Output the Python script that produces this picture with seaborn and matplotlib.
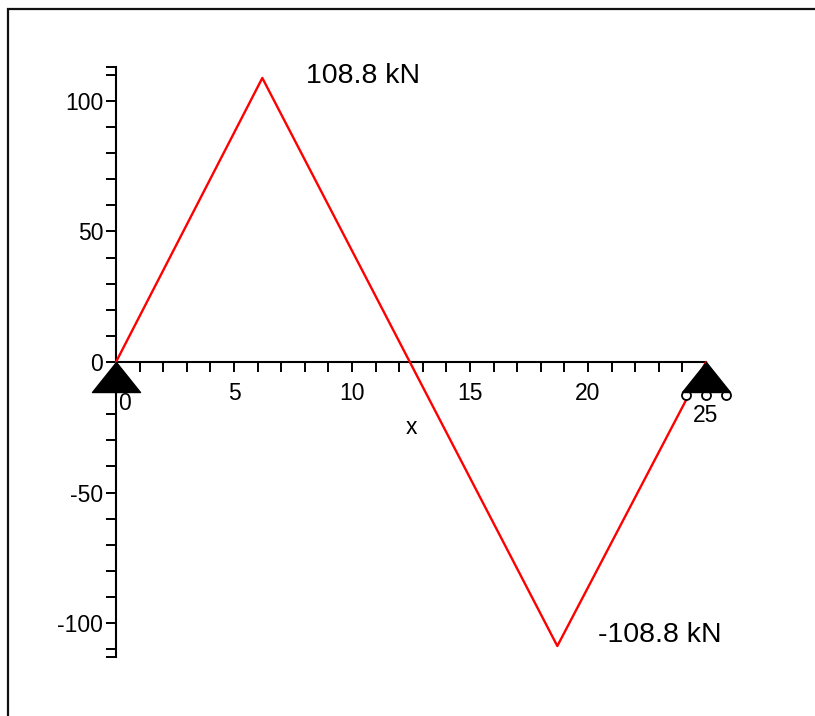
import numpy as np
import pandas as pd
import matplotlib
matplotlib.use("Agg")
import matplotlib.pyplot as plt
from matplotlib.path import Path
from matplotlib.markers import MarkerStyle
from matplotlib.transforms import ScaledTranslation
from matplotlib.patches import Rectangle
import seaborn as sns

# ---- data ----
x_pos = [0.0, 6.2, 18.7, 25.0]
shear = [0.0, 108.8, -108.8, 0.0]
supports_x = [0.0, 25.0]
peak_labels = ["108.8 kN", "-108.8 kN"]
peak_label_x = [10.45, 23.05]
peak_label_y = [109.5, -104.5]
x_major = [0, 5, 10, 15, 20, 25]
x_major_labels = ["", "5", "10", "15", "20", ""]
y_major = [-100, -50, 0, 50, 100]
y_major_labels = ["-100", "-50", "0", "50", "100"]

sns.set_style("white")
plt.rcParams["font.family"] = ["Liberation Sans", "DejaVu Sans"]
plt.rcParams["text.color"] = "black"
plt.rcParams["axes.labelcolor"] = "black"

fig = plt.figure(figsize=(8.15, 7.16), dpi=100)
ax = fig.add_axes([116 / 815, 59 / 716, 590 / 815, 590 / 716])

df = pd.DataFrame({"x": x_pos, "V": shear})
sns.lineplot(data=df, x="x", y="V", ax=ax, color="#ff0000", lw=1.7,
             estimator=None, sort=False, clip_on=False, zorder=3)

ax.set_xlim(0, 25)
ax.set_ylim(-113, 113)

for s in ["top", "right"]:
    ax.spines[s].set_visible(False)
ax.spines["left"].set_position(("data", 0))
ax.spines["bottom"].set_position(("data", 0))
for s in ["left", "bottom"]:
    ax.spines[s].set_linewidth(1.5)
    ax.spines[s].set_color("black")

ax.set_xticks(x_major)
ax.set_xticklabels(x_major_labels)
ax.set_xticks(np.arange(1, 25, 1), minor=True)
ax.set_yticks(y_major)
ax.set_yticklabels(y_major_labels)
ax.set_yticks(list(np.arange(-110, 111, 10)) + [-113, 113], minor=True)
ax.tick_params(axis="both", which="both", direction="out", length=7.2,
               width=1.4, color="black", labelsize=16.5, labelcolor="black",
               bottom=True, left=True, top=False, right=False)
ax.tick_params(axis="x", which="both", pad=7)
ax.tick_params(axis="y", which="both", pad=2)

ax.set_xlabel("x", fontsize=16.5, labelpad=8, color="black")
ax.set_ylabel("")

# supports: pinned at 0, roller at 25
tri = MarkerStyle(Path([(0, 0), (-24, -30), (24, -30), (0, 0)],
                       [Path.MOVETO, Path.LINETO, Path.LINETO, Path.CLOSEPOLY]))
for i, sx in enumerate(supports_x):
    if i == 1:
        for dx in (-20, 0, 20):
            off = ScaledTranslation(dx / 100, -33 / 100, fig.dpi_scale_trans)
            ax.plot([sx], [0], marker="o", ms=6.5, mfc="white", mec="black",
                    mew=1.3, ls="none", transform=ax.transData + off,
                    clip_on=False, zorder=4)
    ax.plot([sx], [0], marker=tri, ms=43.2, color="black", ls="none",
            clip_on=False, zorder=5)

# tick labels displaced by the supports
ax.annotate("0", xy=(0, 0), xytext=(8, -42), textcoords="offset pixels",
            ha="center", va="center", fontsize=16.5, color="black")
ax.annotate("25", xy=(25, 0), xytext=(0, -53), textcoords="offset pixels",
            ha="center", va="center", fontsize=16.5, color="black")

for lbl, lx, ly in zip(peak_labels, peak_label_x, peak_label_y):
    ax.text(lx, ly, lbl, ha="center", va="center", fontsize=20.5, color="black")

fig.patches.append(Rectangle((7.5 / 815, -0.1), 1.2, (716 - 8.5) / 716 + 0.1,
                             transform=fig.transFigure, fill=False,
                             edgecolor="#111111", lw=1.6))

fig.savefig("out.png", dpi=100)
